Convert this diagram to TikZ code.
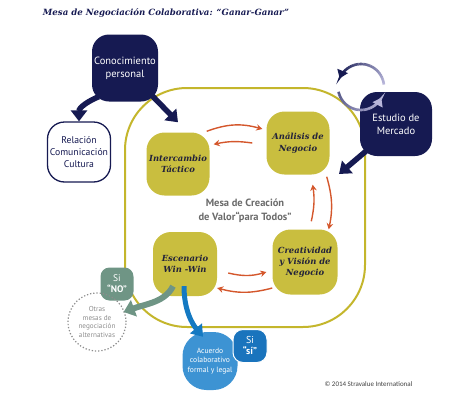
\documentclass[tikz,border=0pt]{standalone}
\usepackage{fontspec}
\setmainfont{DejaVu Serif}
\setsansfont{PT Sans}
\newfontfamily\cpfont{Carlito}
\usetikzlibrary{arrows.meta,calc}
\definecolor{navy}{HTML}{161A52}
\definecolor{olive}{HTML}{C9BE3F}
\definecolor{oring}{HTML}{C4B62C}
\definecolor{orng}{HTML}{D4572C}
\definecolor{sage}{HTML}{6F9585}
\definecolor{lblue}{HTML}{3D93D3}
\definecolor{dblue}{HTML}{1A74BD}
\definecolor{arrblue}{HTML}{1479C2}
\definecolor{gtext}{HTML}{6B6B6B}
\definecolor{dottxt}{HTML}{8C8C8C}
\definecolor{lav}{HTML}{B8B6DA}
\definecolor{olivetxt}{HTML}{23233A}
\tikzset{
  navybox/.style={fill=navy, text=white, rounded corners=17pt, inner sep=0pt,
    font=\sffamily\fontsize{10.5}{13}\selectfont, align=center},
  olivebox/.style={fill=olive, text=olivetxt, rounded corners=18pt, inner sep=0pt,
    minimum width=63pt, minimum height=63pt,
    font=\fontsize{8.4}{11.2}\selectfont\bfseries\itshape, align=center},
  orarrow/.style={draw=orng, line width=1.4pt, -{Stealth[length=6pt,width=6.5pt]}},
  bigarrow/.style={line width=5.5pt, -{Triangle[length=11pt,width=16pt]}},
}
\begin{document}
\begin{tikzpicture}[x=1pt,y=-1pt]
\useasboundingbox (0,0) rectangle (464,405);
% title
\node[text=navy, font=\fontsize{8.6}{10}\selectfont\bfseries\itshape] (title) at (166,13)
  {Mesa de Negociación Colaborativa: “Ganar-Ganar”};
% big outline
\draw[oring, line width=2pt, rounded corners=62pt] (125,88) rectangle (365,327);
% nodes
\node[navybox, minimum width=66pt, minimum height=67pt] (con) at (125,68) {Conocimiento\\personal};
\node[fill=white, draw=navy, line width=1.3pt, rounded corners=17pt, inner sep=0pt,
  minimum width=63pt, minimum height=60pt, text=navy,
  font=\sffamily\fontsize{9.7}{11.7}\selectfont, align=center] (rel) at (79,152)
  {Relación\\Comunicación\\Cultura};
\node[navybox, minimum width=72pt, minimum height=64pt] (est) at (396,124) {Estudio de\\Mercado};
\node[olivebox] (inter) at (178,164) {Intercambio\\Táctico};
\node[olivebox] (ana) at (298,143) {Análisis de\\Negocio};
\node[olivebox, minimum width=65pt, minimum height=65pt] (crea) at (305,262) {Creatividad\\y Visión de\\Negocio};
\node[olivebox, minimum width=64pt, minimum height=64pt] (esc) at (185,264) {Escenario\\Win -Win};
\node[text=gtext, font=\sffamily\bfseries\fontsize{10.5}{14}\selectfont, align=center] (mesa) at (245,211)
  {Mesa de Creación\\de Valor“para Todos”};
% orange arrows
\draw[orarrow] ($(inter.north east)+(-3,-1)$) to[bend left=18] ($(ana.west)+(-4,-14)$);
\draw[orarrow] ($(ana.west)+(-14,0)$) to[bend right=10] ($(inter.north east)+(4,12)$);
\draw[orarrow] ($(ana.south east)+(-3,2)$) to[bend left=14] ($(crea.north east)+(-9,0)$);
\draw[orarrow] ($(crea.north west)+(39,-8)$) to[bend right=10] ($(ana.south east)+(-17,10)$);
\draw[orarrow] ($(esc.east)+(11,9)$) to[bend right=15] ($(crea.west)+(-6,10)$);
\draw[orarrow] ($(crea.west)+(0,26)$) to[bend left=15] ($(esc.east)+(0,24)$);
% navy arrows
\draw[navy, bigarrow] ($(con.south west)+(7,-5)$) .. controls +(-10,4) and +(0,-14) .. (rel.north);
\draw[navy, bigarrow] ($(con.south east)+(-8,-8)$) -- ($(inter.north)+(0,-10)$);
\coordinate (estTip) at (339,174);
\draw[navy, bigarrow] ($(est.south west)+(12,-10)$) -- (estTip);
% cycle arrows near Estudio
\foreach \a [evaluate=\a as \p using {100*(\a-6)/140}] in {6,12,...,144} {
  \draw[line width=2.6pt, color=navy!\p!lav] ([shift={(\a:23pt)}]361,87) arc[start angle=\a, end angle=\a+6.5, radius=23pt];
}
\draw[line width=2.6pt, navy, -{Triangle[length=8pt,width=11pt]}] ([shift={(150:23pt)}]361,87) arc[start angle=150, end angle=158, radius=23pt];
\foreach \a [evaluate=\a as \p using {60-60*(\a-192)/130}] in {192,198,...,318} {
  \draw[line width=2.6pt, color=navy!\p!lav] ([shift={(\a:23pt)}]361,87) arc[start angle=\a, end angle=\a+6.5, radius=23pt];
}
\draw[line width=2.6pt, lav, -{Triangle[length=8pt,width=11pt]}] ([shift={(324:23pt)}]361,87) arc[start angle=324, end angle=332, radius=23pt];
% outcome nodes
\node[fill=sage, text=white, rounded corners=9pt, minimum width=33pt, minimum height=33pt, inner sep=0pt,
  font=\sffamily\fontsize{9.5}{11}\selectfont, align=center] (no) at (117,284) {Si\\\textbf{“NO”}};
\node[circle, draw=dottxt, line width=1.2pt, dash pattern=on 1.3pt off 1.9pt, minimum size=58pt, inner sep=0pt,
  text=dottxt, font=\sffamily\fontsize{7.2}{8.8}\selectfont, align=center] (otras) at (97,322)
  {Otras\\mesas de\\negociación\\alternativas};
\node[fill=lblue, text=white, rounded corners=24pt, minimum width=55pt, minimum height=58pt, inner sep=0pt,
  font=\sffamily\fontsize{7.6}{9.4}\selectfont, align=center] (acu) at (210,361)
  {Acuerdo\\colaborativo\\formal y legal};
\node[fill=dblue, draw=white, line width=1pt, text=white, rounded corners=10pt, minimum width=34pt, minimum height=33pt, inner sep=0pt,
  font=\sffamily\fontsize{10}{11}\selectfont, align=center] (si) at (250,346) {Si\\\textbf{“sí”}};
% outcome arrows
\draw[sage, line width=6pt, -{Triangle[length=11pt,width=17pt]}] ($(esc.south)+(-12,-10)$) .. controls +(-8,16) and +(22,-8) .. ($(otras.east)+(-3,-10)$);
\draw[arrblue, line width=5pt, -{Triangle[length=11pt,width=15pt]}] ($(esc.south)+(-1,-10)$) .. controls +(0,25) and +(-10,-12) .. ($(acu.north)+(-7,5)$);
% copyright
\node[text=black!75, font=\cpfont\fontsize{7}{8}\selectfont, anchor=west] (copy) at (321,384) {© 2014 Stravalue International};
\end{tikzpicture}
\end{document}
